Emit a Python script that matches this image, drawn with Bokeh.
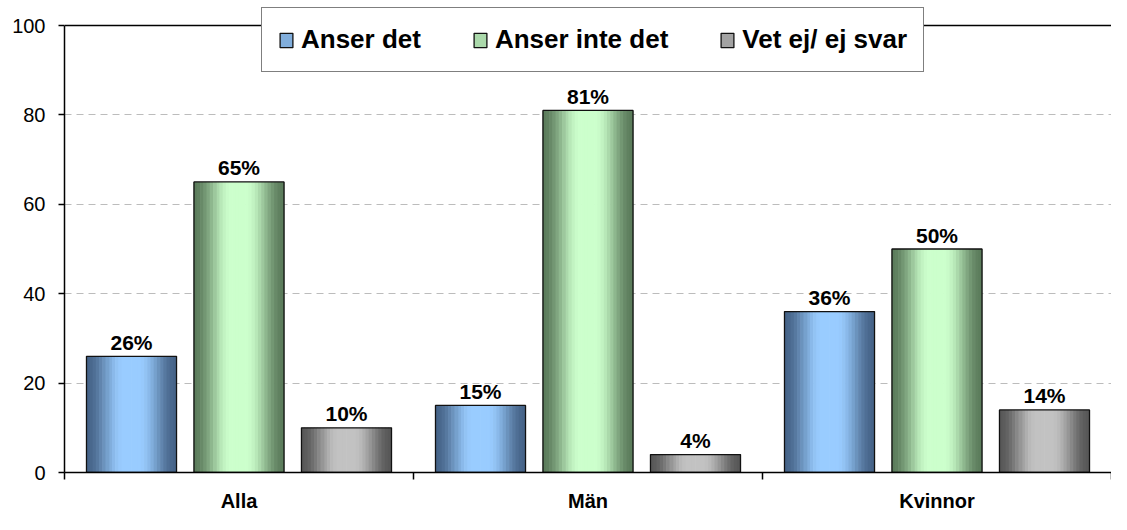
import math
from bokeh.plotting import figure
from bokeh.models import (Range1d, FixedTicker, Span, Legend, LegendItem)
from bokeh.core.properties import value
from bokeh.embed import file_html
from bokeh.resources import INLINE

# ---- data ----
categories = ["Alla", "Män", "Kvinnor"]
series_names = ["Anser det", "Anser inte det", "Vet ej/ ej svar"]
anser_det = [26, 15, 36]
anser_inte_det = [65, 81, 50]
vet_ej_ej_svar = [10, 4, 14]
y_ticks = [0, 20, 40, 60, 80, 100]

series_values = [anser_det, anser_inte_det, vet_ej_ej_svar]

# ---- style ----
FONT = "Liberation Sans"
dark_colors = [(70, 100, 136), (92, 124, 92), (88, 88, 88)]
light_colors = [(153, 204, 255), (204, 255, 204), (194, 194, 194)]
offsets = [-0.308, 0.0, 0.308]
bar_w = 0.258
N = 28


def shade(t):
    if t < 0.42:
        return 0.5 - 0.5 * math.cos(math.pi * t / 0.42)
    if t <= 0.58:
        return 1.0
    s = (t - 0.58) / 0.42
    return 0.5 + 0.5 * math.cos(math.pi * s)


def col(dark, light, f):
    r, g, b = (int(round(d + f * (l - d))) for d, l in zip(dark, light))
    return "#%02x%02x%02x" % (r, g, b)


W, H = 1111, 514
BL, BT, BB = 64, 2, 42
frame_bottom = H - BB
y_top_px = 25          # where the axis maximum (100) sits on screen
y_max = y_ticks[-1]
y_end = y_max * (frame_bottom - BT) / (frame_bottom - y_top_px)

p = figure(width=W, height=H, output_backend="svg", toolbar_location=None,
           x_range=Range1d(0, len(categories)), y_range=Range1d(0, y_end),
           min_border_left=BL, min_border_right=0, min_border_top=BT,
           min_border_bottom=BB)
p.outline_line_color = None
p.background_fill_color = "white"
p.border_fill_color = "white"

# grid
p.xgrid.visible = False
p.ygrid.ticker = FixedTicker(ticks=[t for t in y_ticks if 0 < t < y_max])
p.ygrid.grid_line_color = "#bcbcbc"
p.ygrid.grid_line_dash = "7 5"
p.ygrid.grid_line_width = 1

# top border line at 100
p.add_layout(Span(location=y_max, dimension="width", line_color="black",
                  line_width=1.5))

# y axis
p.yaxis.bounds = (0, y_max)
p.yaxis.ticker = FixedTicker(ticks=y_ticks)
p.yaxis.major_tick_out = 6
p.yaxis.major_tick_in = 0
p.yaxis.minor_tick_line_color = None
p.yaxis.axis_line_color = "black"
p.yaxis.axis_line_width = 1.5
p.yaxis.major_tick_line_color = "black"
p.yaxis.major_tick_line_width = 1.5
p.yaxis.major_label_text_font = FONT
p.yaxis.major_label_text_font_size = "20px"
p.yaxis.major_label_text_color = "black"
p.yaxis.major_label_standoff = 13

# x axis
centers = [i + 0.5 for i in range(len(categories))]
p.xaxis.ticker = FixedTicker(ticks=centers,
                             minor_ticks=list(range(len(categories) + 1)))
p.xaxis.major_label_overrides = {c: cat for c, cat in zip(centers, categories)}
p.xaxis.major_tick_line_color = None
p.xaxis.major_tick_out = 0
p.xaxis.major_tick_in = 0
p.xaxis.minor_tick_line_color = "black"
p.xaxis.minor_tick_line_width = 1.5
p.xaxis.minor_tick_out = 7
p.xaxis.minor_tick_in = 0
p.xaxis.axis_line_color = "black"
p.xaxis.axis_line_width = 1.5
p.xaxis.major_label_text_font = FONT
p.xaxis.major_label_text_font_size = "20px"
p.xaxis.major_label_text_font_style = "bold"
p.xaxis.major_label_text_color = "black"
p.xaxis.major_label_standoff = 10

legend_items = []
k0 = N // 4
order = list(range(k0, N)) + list(range(0, k0))
for s, (name, vals) in enumerate(zip(series_names, series_values)):
    xs, tops, colors = [], [], []
    sw = bar_w / N
    for k in order:
        t = (k + 0.5) / N
        c = col(dark_colors[s], light_colors[s], shade(t))
        for g, v in enumerate(vals):
            bc = centers[g] + offsets[s]
            xs.append(bc - bar_w / 2 + (k + 0.5) * sw)
            tops.append(v)
            colors.append(c)
    strips = p.vbar(x=xs, top=tops, width=sw * 1.2, bottom=0,
                    fill_color=colors, line_color=None)
    bx = [centers[g] + offsets[s] for g in range(len(vals))]
    outline = p.vbar(x=bx, top=vals, width=bar_w, bottom=0, fill_color=None,
                     line_color="#111111", line_width=1.3)
    p.text(x=bx, y=vals, text=["%d%%" % v for v in vals],
           text_font=value(FONT), text_font_size="21px",
           text_font_style="bold", text_color="black", text_align="center",
           text_baseline="alphabetic", y_offset=-14)
    legend_items.append(LegendItem(label=name, renderers=[strips, outline],
                                   index=0))

legend_top = 9
legend_h = 63
legend = Legend(items=legend_items, orientation="horizontal",
                location=(261 - BL, frame_bottom - legend_top - legend_h),
                margin=0,
                border_line_color="black", border_line_width=1.2,
                background_fill_color="white", background_fill_alpha=1.0,
                label_text_font=FONT, label_text_font_size="26px",
                label_text_font_style="bold", label_text_color="black",
                glyph_width=16, glyph_height=18, label_standoff=7,
                spacing=51, padding=16)
p.add_layout(legend, "center")

open("out.html", "w").write(file_html(p, INLINE))
